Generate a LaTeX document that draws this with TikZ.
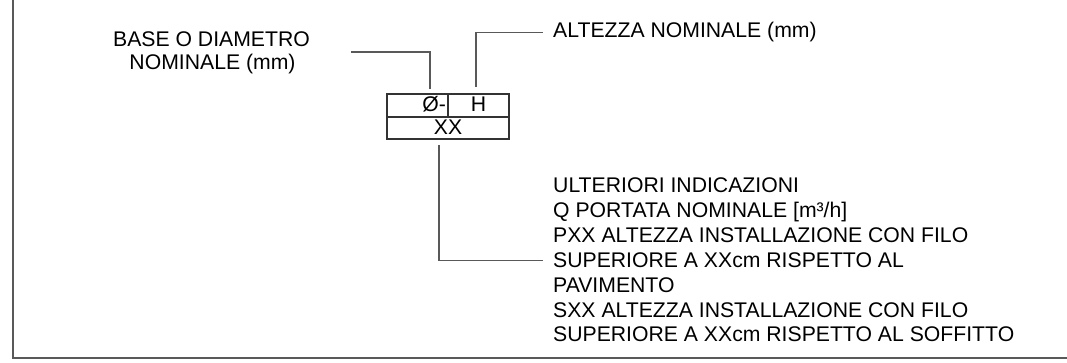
\documentclass[tikz,border=0pt]{standalone}
\usepackage{fontspec}
\setmainfont{Liberation Sans}
\begin{document}
\begin{tikzpicture}[x=1pt,y=-1pt,
  lbl/.style={inner sep=0pt, font=\fontsize{21.2}{25}\selectfont, text=black},
  cell/.style={draw=black!80, line width=1.3pt, inner sep=0pt, minimum height=23pt,
     font=\fontsize{21.2}{25}\selectfont, text height=15pt, text depth=3pt},
  leader/.style={draw=black!65, line width=1.1pt},
  frameline/.style={draw=black!65, line width=2pt}]
\useasboundingbox (0,0) rectangle (1067,363);
% frame
\draw[frameline] (13,-2) -- (13,358.3) -- (1069,358.3);
% box
\node[cell, minimum width=61pt, text width=57pt, align=right] (cellA) at (417.5,105.5) {Ø-};
\node[cell, minimum width=61pt] (cellB) at (478.5,105.5) {H\hspace{8pt}};
\node[cell, minimum width=122pt, minimum height=22pt, text depth=1pt] (cellC) at (448,128) {XX};
% labels
\node[lbl, anchor=base] (base1) at (211.5,46.7) {BASE O DIAMETRO};
\node[lbl, anchor=base] (base2) at (212.5,70) {NOMINALE (mm)};
\node[lbl, anchor=base west] (alt) at (553,38) {ALTEZZA NOMINALE (mm)};
\node[lbl, anchor=base west] (r1) at (553,193) {ULTERIORI INDICAZIONI};
\node[lbl, anchor=base west] (r2) at (553,217.8) {Q PORTATA NOMINALE [m³/h]};
\node[lbl, anchor=base west] (r3) at (553,242.6) {PXX ALTEZZA INSTALLAZIONE CON FILO};
\node[lbl, anchor=base west] (r4) at (553,267.4) {SUPERIORE A XXcm RISPETTO AL};
\node[lbl, anchor=base west] (r5) at (553,292.2) {PAVIMENTO};
\node[lbl, anchor=base west] (r6) at (553,317) {SXX ALTEZZA INSTALLAZIONE CON FILO};
\node[lbl, anchor=base west] (r7) at (553,341.8) {SUPERIORE A XXcm RISPETTO AL SOFFITTO};
% leader coordinates
\coordinate (dStart) at (430,89);
\coordinate (dEnd) at (351,52);
\coordinate (hStart) at (476,87);
\coordinate (xStart) at (439,145);
% leaders
\draw[leader] (dStart) |- (dEnd);
\draw[leader] (hStart) |- ([xshift=-10pt]alt.west);
\draw[leader] (xStart) |- ([xshift=-10pt]r4.west);
\end{tikzpicture}
\end{document}
